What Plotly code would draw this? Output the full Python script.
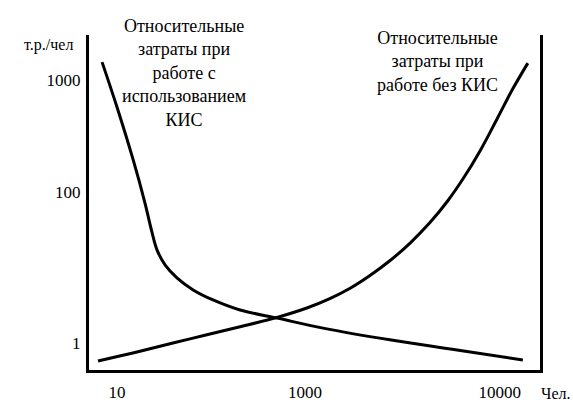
import plotly.graph_objects as go

# Schematic chart: positions in arbitrary schematic units (0..100 across the axes box)
x_tick_pos = [6.2, 47.9, 91.1]
x_tick_labels = ["10", "1000", "10000"]
y_tick_pos = [8.1, 53.1, 86.6]
y_tick_labels = ["1", "100", "1000"]

# Relative costs with КИС (falling curve)
kis_x = [2.9, 6.2, 9.8, 12.4, 14.0, 15.1, 16.9, 19.5, 23.1, 27.5, 33.5, 41.7, 51.9, 66.7, 81.6, 96.2]
kis_y = [91.9, 78.5, 62.7, 49.9, 40.9, 35.8, 31.3, 27.5, 23.9, 20.9, 17.9, 15.5, 12.5, 9.0, 6.0, 3.0]

# Relative costs without КИС (rising curve)
nokis_x = [2.0, 11.3, 22.4, 33.5, 41.7, 48.3, 53.4, 57.9, 62.3, 66.7, 71.2, 75.6, 79.6, 82.9, 86.7, 90.5, 94.0, 97.3]
nokis_y = [2.7, 5.6, 9.3, 12.9, 15.7, 18.5, 21.3, 24.4, 28.2, 32.6, 37.9, 44.0, 50.6, 57.0, 65.4, 75.0, 84.0, 91.6]

FONT = "Liberation Serif"

fig = go.Figure()
for xs, ys in ((kis_x, kis_y), (nokis_x, nokis_y)):
    fig.add_trace(go.Scatter(x=xs, y=ys, mode="lines",
                             line=dict(color="black", width=3, shape="spline", smoothing=1.0),
                             showlegend=False, hoverinfo="skip"))

fig.update_layout(
    width=573, height=410,
    margin=dict(l=89, r=33, t=35, b=40),
    paper_bgcolor="white", plot_bgcolor="white",
    font=dict(family=FONT, size=17, color="black"),
    xaxis=dict(range=[0, 100], showgrid=False, zeroline=False, automargin=False,
               showline=True, linecolor="black", linewidth=3,
               tickmode="array", tickvals=x_tick_pos, ticktext=x_tick_labels,
               ticks="", ticklabelstandoff=5, tickfont=dict(family=FONT, size=17)),
    yaxis=dict(range=[0, 100], showgrid=False, zeroline=False, automargin=False,
               showline=True, mirror=True, linecolor="black", linewidth=3,
               tickmode="array", tickvals=y_tick_pos, ticktext=y_tick_labels,
               ticks="", ticklabelstandoff=2, tickfont=dict(family=FONT, size=17)),
    annotations=[
        dict(text="т.р./чел", xref="paper", yref="paper", x=0.0, y=0.97,
             xanchor="right", yanchor="middle", showarrow=False, xshift=-14,
             font=dict(family=FONT, size=16)),
        dict(text="Чел.", xref="paper", yref="paper", x=1.071, y=-0.069,
             xanchor="right", yanchor="middle", showarrow=False,
             font=dict(family=FONT, size=16)),
        dict(text="Относительные<br>затраты при<br>работе с<br>использованием<br>КИС",
             xref="paper", yref="paper", x=0.2106, y=0.887,
             xanchor="center", yanchor="middle", showarrow=False,
             font=dict(family=FONT, size=18)),
        dict(text="Относительные<br>затраты при<br>работе без КИС",
             xref="paper", yref="paper", x=0.772, y=0.92,
             xanchor="center", yanchor="middle", showarrow=False,
             font=dict(family=FONT, size=18)),
    ],
)

fig.write_html("out.html", config={"displayModeBar": False},
               post_script="document.body.style.margin='0';document.body.style.overflow='hidden';")
